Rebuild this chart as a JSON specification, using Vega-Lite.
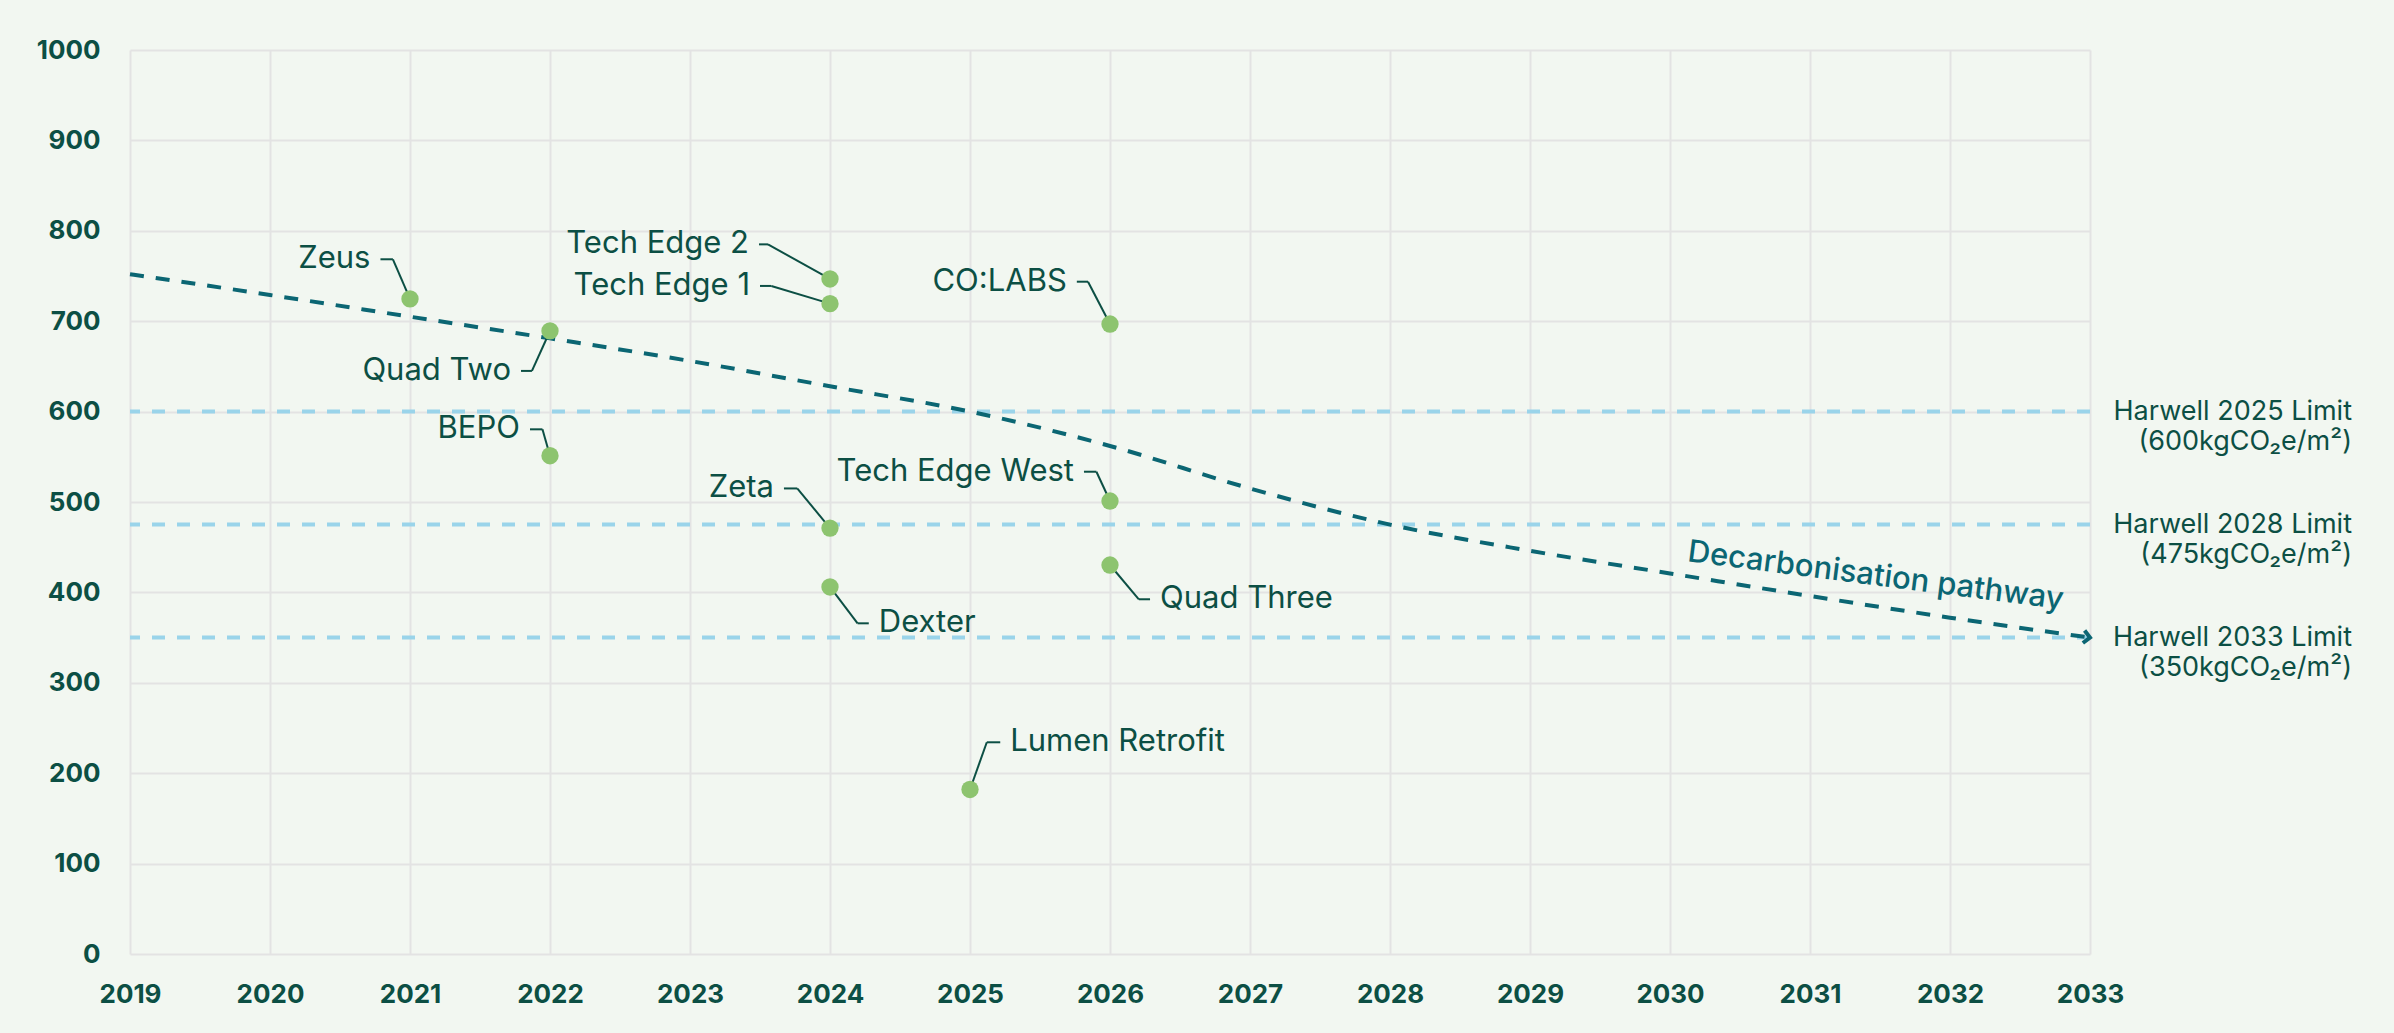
{
  "$schema": "https://vega.github.io/schema/vega-lite/v6.json",
  "width": 1960,
  "height": 904,
  "autosize": {"type": "none"},
  "padding": {"left": 130, "top": 50, "right": 304, "bottom": 79},
  "background": "#f2f7f1",
  "config": {
    "view": {"stroke": null},
    "font": "Inter",
    "axis": {
      "labelFont": "Inter",
      "labelFontSize": 26,
      "labelFontWeight": "bold",
      "labelColor": "#0c4f44",
      "labelFlush": false,
      "labelOverlap": false,
      "grid": true,
      "gridColor": "#e3e3e3",
      "gridWidth": 2,
      "domain": false,
      "ticks": false,
      "title": null
    }
  },
  "datasets": {
    "projects": [
      {"name": "Zeus", "year": 2021, "value": 724.6, "lx": 2020.878, "ly": 768.5, "tx": 2020.789, "side": "left"},
      {"name": "Tech Edge 2", "year": 2024, "value": 746.7, "lx": 2023.557, "ly": 785, "tx": 2023.493, "side": "left"},
      {"name": "Tech Edge 1", "year": 2024, "value": 719.4, "lx": 2023.581, "ly": 739, "tx": 2023.5, "side": "left"},
      {"name": "Quad Two", "year": 2022, "value": 689.2, "lx": 2021.871, "ly": 645, "tx": 2021.793, "side": "left"},
      {"name": "BEPO", "year": 2022, "value": 551.2, "lx": 2021.946, "ly": 580.4, "tx": 2021.857, "side": "left"},
      {"name": "CO:LABS", "year": 2026, "value": 696.9, "lx": 2025.843, "ly": 743.7, "tx": 2025.763, "side": "left"},
      {"name": "Tech Edge West", "year": 2026, "value": 501.1, "lx": 2025.903, "ly": 533.5, "tx": 2025.814, "side": "left"},
      {"name": "Zeta", "year": 2024, "value": 471.2, "lx": 2023.766, "ly": 515, "tx": 2023.671, "side": "left"},
      {"name": "Dexter", "year": 2024, "value": 406, "lx": 2024.197, "ly": 365.8, "tx": 2024.277, "side": "right"},
      {"name": "Quad Three", "year": 2026, "value": 430.3, "lx": 2026.206, "ly": 392.4, "tx": 2026.286, "side": "right"},
      {"name": "Lumen Retrofit", "year": 2025, "value": 182, "lx": 2025.12, "ly": 234.2, "tx": 2025.216, "side": "right"}
    ],
    "pathway": [
      {"year": 2019, "value": 752},
      {"year": 2020, "value": 729},
      {"year": 2021, "value": 705},
      {"year": 2022, "value": 681},
      {"year": 2023, "value": 656},
      {"year": 2024, "value": 628},
      {"year": 2025, "value": 600},
      {"year": 2026, "value": 562},
      {"year": 2027, "value": 515},
      {"year": 2028, "value": 475},
      {"year": 2029, "value": 446},
      {"year": 2030, "value": 421},
      {"year": 2031, "value": 396},
      {"year": 2032, "value": 372},
      {"year": 2033, "value": 350}
    ],
    "limits": [
      {"limit": 600, "label": "Harwell 2025 Limit\n(600kgCO₂e/m²)"},
      {"limit": 475, "label": "Harwell 2028 Limit\n(475kgCO₂e/m²)"},
      {"limit": 350, "label": "Harwell 2033 Limit\n(350kgCO₂e/m²)"}
    ],
    "pathwayLabel": [
      {"text": "Decarbonisation pathway"}
    ]
  },
  "encoding": {
    "x": {
      "type": "quantitative",
      "scale": {"domain": [2019, 2033], "nice": false, "zero": false},
      "axis": {
        "values": [2019, 2020, 2021, 2022, 2023, 2024, 2025, 2026, 2027, 2028, 2029, 2030, 2031, 2032, 2033],
        "format": "d",
        "labelPadding": 27,
        "grid": true
      }
    },
    "y": {
      "type": "quantitative",
      "scale": {"domain": [0, 1000], "nice": false},
      "axis": {
        "values": [0, 100, 200, 300, 400, 500, 600, 700, 800, 900, 1000],
        "format": "d",
        "labelPadding": 30,
        "grid": true
      }
    }
  },
  "layer": [
    {
      "data": {"name": "limits"},
      "mark": {"type": "rule", "color": "#9ad4ea", "strokeWidth": 4, "strokeDash": [13, 12]},
      "encoding": {"y": {"field": "limit", "type": "quantitative"}}
    },
    {
      "data": {"name": "limits"},
      "mark": {"type": "text", "align": "right", "baseline": "alphabetic", "dx": 262, "dy": 8, "fontSize": 27, "lineHeight": 30, "lineBreak": "\n", "color": "#0c4f44", "font": "Inter"},
      "encoding": {
        "x": {"datum": 2033, "type": "quantitative"},
        "y": {"field": "limit", "type": "quantitative"},
        "text": {"field": "label"}
      }
    },
    {
      "data": {"name": "pathway"},
      "mark": {"type": "line", "color": "#0b6673", "strokeWidth": 4, "strokeDash": [14, 12], "interpolate": "monotone"},
      "encoding": {
        "x": {"field": "year", "type": "quantitative"},
        "y": {"field": "value", "type": "quantitative"}
      }
    },
    {
      "data": {"name": "pathway"},
      "transform": [{"filter": "datum.year == 2033"}],
      "mark": {"type": "point", "shape": "M-1,-1L0,0L-1,1", "filled": false, "stroke": "#0b6673", "strokeWidth": 4, "size": 160, "angle": 8, "opacity": 1},
      "encoding": {
        "x": {"field": "year", "type": "quantitative"},
        "y": {"field": "value", "type": "quantitative"}
      }
    },
    {
      "data": {"name": "pathwayLabel"},
      "mark": {"type": "text", "align": "center", "baseline": "alphabetic", "angle": 7.3, "fontSize": 31, "fontWeight": 500, "color": "#0b6673", "font": "Inter"},
      "encoding": {
        "x": {"datum": 2031.46, "type": "quantitative"},
        "y": {"datum": 408, "type": "quantitative"},
        "text": {"field": "text"}
      }
    },
    {
      "data": {"name": "projects"},
      "mark": {"type": "rule", "color": "#0c4f44", "strokeWidth": 2},
      "encoding": {
        "x": {"field": "year", "type": "quantitative"},
        "y": {"field": "value", "type": "quantitative"},
        "x2": {"field": "lx"},
        "y2": {"field": "ly"}
      }
    },
    {
      "data": {"name": "projects"},
      "mark": {"type": "rule", "color": "#0c4f44", "strokeWidth": 2},
      "encoding": {
        "x": {"field": "lx", "type": "quantitative"},
        "y": {"field": "ly", "type": "quantitative"},
        "x2": {"field": "tx"},
        "y2": {"field": "ly"}
      }
    },
    {
      "data": {"name": "projects"},
      "mark": {"type": "circle", "color": "#8dc46f", "size": 300, "opacity": 1},
      "encoding": {
        "x": {"field": "year", "type": "quantitative"},
        "y": {"field": "value", "type": "quantitative"}
      }
    },
    {
      "data": {"name": "projects"},
      "transform": [{"filter": "datum.side == 'left'"}],
      "mark": {"type": "text", "align": "right", "baseline": "middle", "dx": -10, "fontSize": 31, "color": "#0c4f44", "font": "Inter"},
      "encoding": {
        "x": {"field": "tx", "type": "quantitative"},
        "y": {"field": "ly", "type": "quantitative"},
        "text": {"field": "name"}
      }
    },
    {
      "data": {"name": "projects"},
      "transform": [{"filter": "datum.side == 'right'"}],
      "mark": {"type": "text", "align": "left", "baseline": "middle", "dx": 10, "fontSize": 31, "color": "#0c4f44", "font": "Inter"},
      "encoding": {
        "x": {"field": "tx", "type": "quantitative"},
        "y": {"field": "ly", "type": "quantitative"},
        "text": {"field": "name"}
      }
    }
  ]
}
